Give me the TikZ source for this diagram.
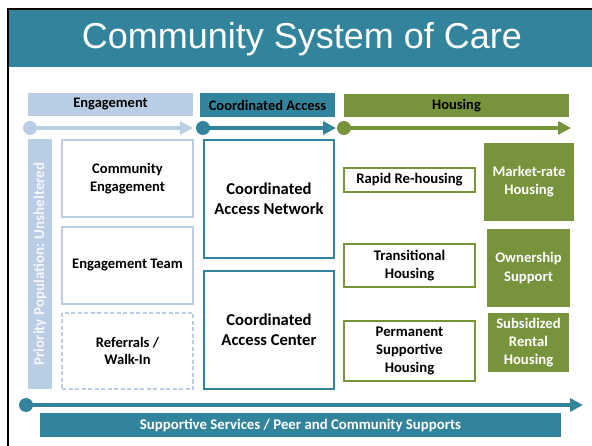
\documentclass[tikz,border=0pt]{standalone}
\usepackage{fontspec}
\setmainfont{Carlito}
\newfontfamily\titlefont{Liberation Sans}
\usetikzlibrary{arrows.meta}
\definecolor{teal}{HTML}{31849B}
\definecolor{lb}{HTML}{B9CDE5}
\definecolor{grn}{HTML}{77933C}
\tikzset{
  fs/.style 2 args={font=\bfseries\fontsize{#1}{#2}\selectfont},
  hdr/.style={fill=#1, inner sep=0pt, text=black, fs={14.5}{17}},
  lbox/.style={draw=lb, line width=1.5pt, fill=white, align=center, inner sep=0pt, minimum width=131pt, fs={14.6}{17.5}},
  cbox/.style={draw=teal, line width=1.5pt, fill=white, align=center, inner sep=0pt, minimum width=130pt, minimum height=118pt, fs={16.6}{20}},
  hbox/.style={draw=grn, line width=1.5pt, fill=white, align=center, inner sep=0pt, minimum width=131pt, fs={14.7}{18}},
  gbox/.style={fill=grn, text=white, align=center, inner sep=0pt, fs={14.7}{18}},
  dot/.style={circle, fill=#1, inner sep=0pt, minimum size=14pt},
  flow/.style={draw=#1, line width=4pt, -{Triangle[length=13pt,width=13pt]}},
}
\begin{document}
\begin{tikzpicture}[x=1pt,y=-1pt]
\useasboundingbox (0,0) rectangle (592,446);
% frame and title
\fill[teal] (9,10) rectangle (592,67);
\draw[line width=2.2pt] (8,446) -- (8,9) -- (592,9);
\node[text=white, font=\titlefont\fontsize{36}{40}\selectfont] (title) at (302,39) {Community System of Care};
% headers
\node[hdr=lb, minimum width=165pt, minimum height=23pt] (hEng) at (110.5,104.5) {Engagement};
\node[hdr=teal, minimum width=135pt, minimum height=24pt] (hCA) at (267.5,105) {Coordinated Access};
\node[hdr=grn, minimum width=225pt, minimum height=23pt] (hHou) at (456.5,105.5) {Housing};
% flow arrows
\node[dot=lb] (d1) at (30,128) {};
\coordinate (e1) at (193,128);
\draw[flow=lb] (d1.center) -- (e1);
\node[dot=teal] (d2) at (203,128) {};
\coordinate (e2) at (336,128);
\draw[flow=teal] (d2.center) -- (e2);
\node[dot=grn] (d3) at (344,128) {};
\coordinate (e3) at (571,128);
\draw[flow=grn] (d3.center) -- (e3);
% priority bar
\node[fill=lb, minimum width=24pt, minimum height=250pt, inner sep=0pt] (prio) at (40,264) {};
\node[rotate=90, text=white!85!lb, fs={15}{17}] (priotext) at (prio.center) {Priority Population: Unsheltered};
% engagement boxes
\node[lbox, minimum height=77pt] (ce) at (127.5,178.5) {Community\\Engagement};
\node[lbox, minimum height=77pt] (et) at (127.5,265.5) {Engagement Team};
\node[lbox, minimum height=76pt, dashed, dash pattern=on 4pt off 2.5pt] (rw) at (127.5,351) {Referrals /\\Walk-In};
% coordinated access
\node[cbox] (can) at (269,199) {Coordinated\\Access Network};
\node[cbox] (cac) at (269,330) {Coordinated\\Access Center};
% housing
\node[hbox, minimum height=24pt] (rrh) at (409.5,180) {Rapid Re-housing};
\node[hbox, minimum height=43pt] (th) at (409.5,265.5) {Transitional\\Housing};
\node[hbox, minimum height=60pt] (psh) at (409.5,351) {Permanent\\Supportive\\Housing};
\node[gbox, minimum width=90pt, minimum height=78pt] (mrh) at (529,182) {Market-rate\\Housing};
\node[gbox, minimum width=83pt, minimum height=78pt] (os) at (528.5,268) {Ownership\\Support};
\node[gbox, minimum width=81pt, minimum height=59pt] (srh) at (528.5,342.5) {Subsidized\\Rental\\Housing};
% supportive services
\node[dot=teal] (d4) at (26,405) {};
\coordinate (e4) at (583,405);
\draw[flow=teal, line width=4.5pt] (d4.center) -- (e4);
\node[fill=teal, text=white, minimum width=521pt, minimum height=24pt, inner sep=0pt, fs={14.8}{17}] (ss) at (300.5,425) {Supportive Services / Peer and Community Supports};
\end{tikzpicture}
\end{document}
